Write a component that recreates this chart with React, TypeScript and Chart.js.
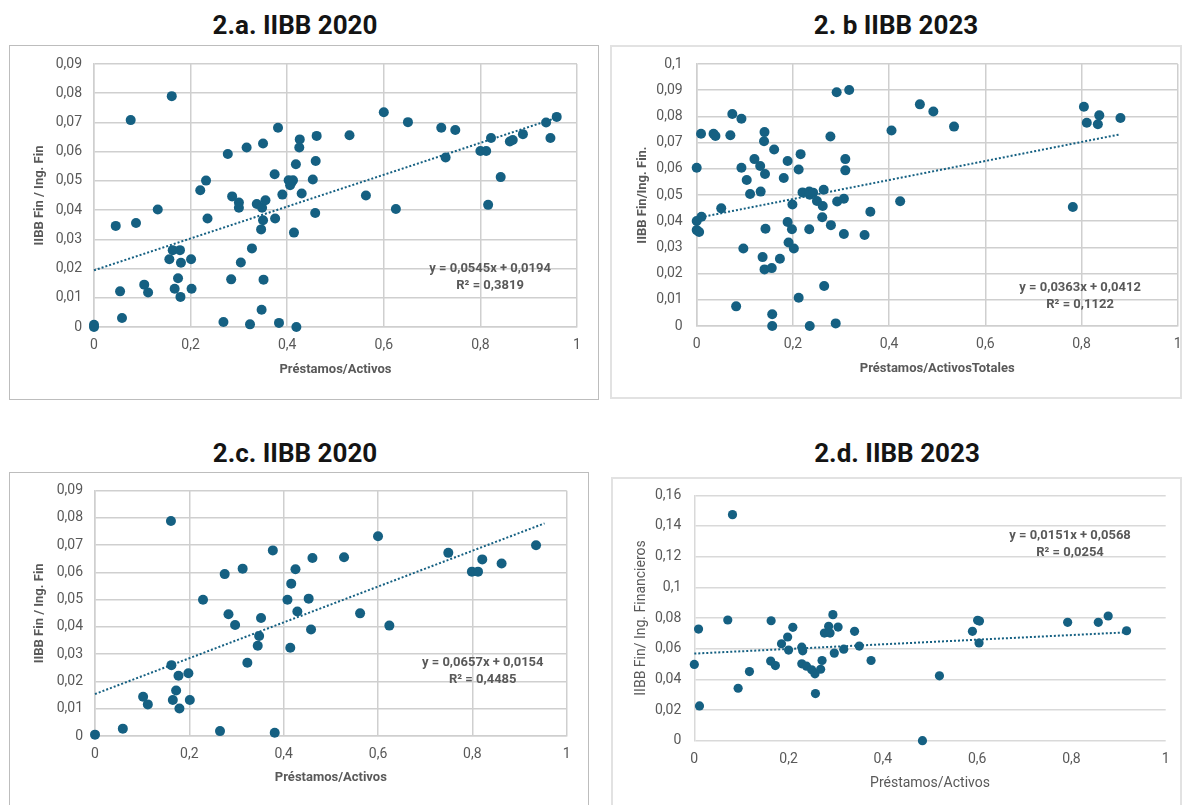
import React, { useEffect, useRef } from "react";
import { Chart, registerables } from "chart.js";

Chart.register(...registerables);

// ---------------- data ----------------
const xTicks = [0, 0.2, 0.4, 0.6, 0.8, 1];
const yTicks09 = [0, 0.01, 0.02, 0.03, 0.04, 0.05, 0.06, 0.07, 0.08, 0.09];
const yTicks10 = [0, 0.01, 0.02, 0.03, 0.04, 0.05, 0.06, 0.07, 0.08, 0.09, 0.1];
const yTicks16 = [0, 0.02, 0.04, 0.06, 0.08, 0.1, 0.12, 0.14, 0.16];

// 2.a. IIBB 2020
const aX = [0, 0, 0.045, 0.054, 0.058, 0.076, 0.087, 0.104, 0.112, 0.132, 0.161, 0.156, 0.163, 0.178, 0.18, 0.174, 0.167, 0.179, 0.201, 0.202, 0.22, 0.232, 0.235, 0.268, 0.277, 0.286, 0.284, 0.3, 0.3, 0.304, 0.316, 0.323, 0.327, 0.337, 0.348, 0.35, 0.355, 0.35, 0.346, 0.351, 0.347, 0.374, 0.375, 0.381, 0.383, 0.39, 0.403, 0.409, 0.406, 0.412, 0.414, 0.419, 0.418, 0.426, 0.425, 0.43, 0.461, 0.459, 0.453, 0.458, 0.529, 0.563, 0.6, 0.625, 0.65, 0.719, 0.728, 0.748, 0.8, 0.812, 0.816, 0.822, 0.842, 0.861, 0.867, 0.888, 0.936, 0.945, 0.958];
const aY = [0, 0.0008, 0.0346, 0.0122, 0.0031, 0.0708, 0.0356, 0.0145, 0.0118, 0.0402, 0.079, 0.0232, 0.0263, 0.0263, 0.022, 0.0167, 0.0131, 0.0103, 0.0232, 0.0131, 0.0468, 0.0501, 0.0371, 0.0017, 0.0592, 0.0447, 0.0163, 0.0426, 0.0408, 0.0221, 0.0614, 0.0009, 0.0269, 0.0421, 0.0408, 0.0628, 0.0434, 0.0365, 0.0334, 0.0162, 0.0059, 0.0523, 0.0371, 0.0682, 0.0014, 0.0453, 0.0502, 0.0495, 0.0485, 0.0502, 0.0323, 0, 0.0557, 0.0642, 0.0614, 0.0457, 0.0654, 0.0568, 0.0505, 0.039, 0.0656, 0.045, 0.0735, 0.0404, 0.0701, 0.0682, 0.058, 0.0674, 0.0602, 0.0602, 0.0418, 0.0647, 0.0513, 0.0635, 0.064, 0.066, 0.07, 0.0647, 0.0719];

// 2. b IIBB 2023
const bX = [0, 0, 0, 0.005, 0.01, 0.009, 0.035, 0.039, 0.051, 0.07, 0.074, 0.093, 0.082, 0.093, 0.097, 0.104, 0.111, 0.12, 0.132, 0.133, 0.14, 0.141, 0.142, 0.143, 0.137, 0.141, 0.156, 0.157, 0.157, 0.161, 0.173, 0.181, 0.189, 0.189, 0.191, 0.198, 0.199, 0.202, 0.212, 0.216, 0.22, 0.212, 0.234, 0.235, 0.234, 0.235, 0.242, 0.25, 0.262, 0.264, 0.261, 0.265, 0.279, 0.278, 0.291, 0.317, 0.289, 0.292, 0.306, 0.309, 0.309, 0.306, 0.349, 0.361, 0.405, 0.423, 0.464, 0.492, 0.535, 0.782, 0.805, 0.811, 0.837, 0.834, 0.881];
const bY = [0.0604, 0.0401, 0.0366, 0.0359, 0.0417, 0.0734, 0.0734, 0.0725, 0.0449, 0.0728, 0.0809, 0.0791, 0.0075, 0.0604, 0.0296, 0.0557, 0.0504, 0.0637, 0.0611, 0.0513, 0.0705, 0.074, 0.058, 0.0371, 0.0263, 0.0216, 0.0221, 0.0045, 0, 0.0674, 0.0257, 0.0565, 0.063, 0.0397, 0.0319, 0.0369, 0.0464, 0.0296, 0.0597, 0.0656, 0.051, 0.0108, 0.0513, 0.0501, 0.0369, 0, 0.0509, 0.0477, 0.0458, 0.052, 0.0415, 0.0153, 0.0385, 0.0723, 0.0892, 0.0901, 0.001, 0.0475, 0.0486, 0.0637, 0.0594, 0.0351, 0.0347, 0.0436, 0.0746, 0.0476, 0.0846, 0.0819, 0.0761, 0.0454, 0.0837, 0.0776, 0.0804, 0.077, 0.0794];

// 2.c. IIBB 2020
const cX = [0, 0.059, 0.102, 0.112, 0.161, 0.162, 0.177, 0.172, 0.165, 0.179, 0.198, 0.201, 0.229, 0.265, 0.275, 0.283, 0.297, 0.313, 0.323, 0.345, 0.348, 0.352, 0.377, 0.381, 0.408, 0.414, 0.416, 0.425, 0.429, 0.461, 0.453, 0.458, 0.528, 0.562, 0.6, 0.624, 0.749, 0.799, 0.812, 0.821, 0.862, 0.935];
const cY = [0.0005, 0.0027, 0.0144, 0.0116, 0.0789, 0.026, 0.0221, 0.0167, 0.0132, 0.0101, 0.023, 0.0132, 0.05, 0.0018, 0.0594, 0.0447, 0.0407, 0.0614, 0.0269, 0.0331, 0.0367, 0.0433, 0.0681, 0.0012, 0.05, 0.0324, 0.0559, 0.0612, 0.0457, 0.0653, 0.0504, 0.0391, 0.0656, 0.045, 0.0733, 0.0405, 0.0672, 0.0603, 0.0603, 0.0648, 0.0633, 0.07];

// 2.d. IIBB 2023
const dX = [0, 0.009, 0.011, 0.071, 0.081, 0.093, 0.117, 0.163, 0.162, 0.172, 0.185, 0.198, 0.2, 0.209, 0.228, 0.228, 0.23, 0.238, 0.249, 0.256, 0.257, 0.268, 0.271, 0.276, 0.285, 0.288, 0.294, 0.297, 0.305, 0.317, 0.34, 0.35, 0.375, 0.484, 0.52, 0.59, 0.601, 0.605, 0.604, 0.792, 0.857, 0.878, 0.917];
const dY = [0.0497, 0.0728, 0.0227, 0.0787, 0.1474, 0.0342, 0.0451, 0.0782, 0.0519, 0.049, 0.0632, 0.0676, 0.0591, 0.0739, 0.0501, 0.061, 0.0586, 0.0486, 0.0462, 0.0436, 0.0307, 0.0466, 0.0523, 0.0702, 0.0746, 0.0702, 0.0822, 0.0571, 0.0741, 0.0597, 0.0713, 0.0617, 0.0523, 0, 0.0423, 0.0713, 0.0785, 0.078, 0.0637, 0.0772, 0.0772, 0.0813, 0.0717];

// trend lines (slope, intercept, R², end of drawn line)
const aTrend = [0.0545, 0.0194, 0.3819, 0.958];
const bTrend = [0.0363, 0.0412, 0.1122, 0.881];
const cTrend = [0.0657, 0.0154, 0.4485, 0.953];
const dTrend = [0.0151, 0.0568, 0.0254, 0.917];

// ---------------- styling ----------------
const BLUE = "#156082";
const FONT = "Roboto, 'Noto Sans', sans-serif";
const TEXT_GRAY = "#595959";

const fmt = (v: number) => String(+Number(v).toFixed(2)).replace(".", ",");
const fmt4 = (v: number) => v.toFixed(4).replace(".", ",");

const eqPlugin = {
  id: "eqLabel",
  afterDatasetsDraw(chart: any, _args: any, opts: any) {
    const { ctx, scales } = chart;
    const cx = scales.x.getPixelForValue(opts.x);
    const cy = scales.y.getPixelForValue(opts.y);
    ctx.save();
    ctx.font = `bold 13px ${FONT}`;
    ctx.fillStyle = TEXT_GRAY;
    ctx.textAlign = "center";
    ctx.textBaseline = "middle";
    ctx.fillText(opts.line1, cx, cy);
    ctx.fillText(opts.line2, cx, cy + 17);
    ctx.restore();
  },
};

type Spec = {
  left: number; top: number; w: number; h: number;
  padTop: number; padRight: number; yAxisW: number; xAxisH: number;
  yTitlePad: number; xTitlePad: number; yTickPad: number;
  yMax: number; yTicks: number[];
  xs: number[]; ys: number[]; trend: number[];
  xTitle: string; yTitle: string; bold: boolean; titleSize: number;
  vGrid: boolean; gridColor: string; radius: number;
  eqX: number; eqY: number;
};

function buildConfig(s: Spec): any {
  const [m, b, r2, end] = s.trend;
  const titleFont = { family: FONT, size: s.titleSize, weight: s.bold ? "bold" : "normal" };
  const tickFont = { family: FONT, size: 14 };
  return {
    type: "scatter",
    data: {
      datasets: [
        {
          type: "line",
          data: [
            { x: 0, y: b },
            { x: end, y: m * end + b },
          ],
          borderColor: BLUE,
          borderWidth: 2,
          borderDash: [2, 2],
          pointRadius: 0,
          fill: false,
          tension: 0,
          clip: false,
        },
        {
          type: "scatter",
          data: s.xs.map((x, i) => ({ x, y: s.ys[i] })),
          backgroundColor: BLUE,
          borderColor: BLUE,
          borderWidth: 0,
          pointRadius: s.radius,
          clip: false,
        },
      ],
    },
    options: {
      animation: false,
      responsive: false,
      maintainAspectRatio: false,
      layout: { autoPadding: false, padding: { top: s.padTop, right: s.padRight, left: 0, bottom: 0 } },
      plugins: {
        legend: { display: false },
        tooltip: { enabled: false },
        title: { display: false },
        eqLabel: {
          x: s.eqX,
          y: s.eqY,
          line1: `y = ${fmt4(m)}x + ${fmt4(b)}`,
          line2: `R² = ${fmt4(r2)}`,
        },
      },
      scales: {
        x: {
          type: "linear",
          min: 0,
          max: 1,
          afterBuildTicks: (sc: any) => {
            sc.ticks = xTicks.map((v) => ({ value: v }));
          },
          afterFit: (sc: any) => {
            sc.height = s.xAxisH;
            sc.paddingLeft = 0;
            sc.paddingRight = 0;
          },
          grid: { display: s.vGrid, color: s.gridColor, lineWidth: 1.5, drawTicks: false },
          border: { display: s.vGrid, color: s.gridColor, width: 1.5 },
          ticks: { color: TEXT_GRAY, font: tickFont, padding: 10.5, autoSkip: false, maxRotation: 0, callback: (v: number) => fmt(v) },
          title: { display: true, text: s.xTitle, color: TEXT_GRAY, font: titleFont, padding: { top: 0, bottom: s.xTitlePad } },
        },
        y: {
          type: "linear",
          min: 0,
          max: s.yMax,
          afterBuildTicks: (sc: any) => {
            sc.ticks = s.yTicks.map((v) => ({ value: v }));
          },
          afterFit: (sc: any) => {
            sc.width = s.yAxisW;
            sc.paddingTop = 0;
            sc.paddingBottom = 0;
          },
          grid: { color: s.gridColor, lineWidth: 1.5, drawTicks: false },
          border: { display: true, color: s.gridColor, width: 1.5 },
          ticks: { color: TEXT_GRAY, font: tickFont, padding: s.yTickPad, autoSkip: false, callback: (v: number) => fmt(v) },
          title: { display: true, text: s.yTitle, color: TEXT_GRAY, font: titleFont, padding: { top: s.yTitlePad, bottom: 0 } },
        },
      },
    },
    plugins: [eqPlugin],
  };
}

function Panel({ spec }: { spec: Spec }) {
  const ref = useRef<HTMLCanvasElement>(null);
  useEffect(() => {
    const chart = new Chart(ref.current as HTMLCanvasElement, buildConfig(spec));
    return () => chart.destroy();
  }, [spec]);
  return (
    <canvas
      ref={ref}
      width={spec.w}
      height={spec.h}
      style={{ position: "absolute", left: spec.left, top: spec.top, width: spec.w, height: spec.h }}
    />
  );
}

const GRID_A = "#cfcfcf";
const GRID_D = "#d9d9d9";

const specA: Spec = {
  left: 10, top: 46, w: 587, h: 353, padTop: 18, padRight: 20, yAxisW: 84, xAxisH: 72,
  yTitlePad: 22, xTitlePad: 21, yTickPad: 12, yMax: 0.09, yTicks: yTicks09,
  xs: aX, ys: aY, trend: aTrend, xTitle: "Préstamos/Activos", yTitle: "IIBB Fin / Ing. Fin",
  bold: true, titleSize: 13, vGrid: true, gridColor: GRID_A, radius: 5, eqX: 0.82, eqY: 0.02,
};
const specB: Spec = {
  left: 611, top: 46, w: 572, h: 352, padTop: 18, padRight: 5.3, yAxisW: 85.7, xAxisH: 72,
  yTitlePad: 24, xTitlePad: 21, yTickPad: 14, yMax: 0.1, yTicks: yTicks10,
  xs: bX, ys: bY, trend: bTrend, xTitle: "Préstamos/ActivosTotales", yTitle: "IIBB Fin/Ing. Fin.",
  bold: true, titleSize: 13, vGrid: true, gridColor: GRID_A, radius: 5, eqX: 0.797, eqY: 0.0145,
};
const specC: Spec = {
  left: 10, top: 473, w: 578, h: 332, padTop: 17.7, padRight: 21.3, yAxisW: 85, xAxisH: 69,
  yTitlePad: 22, xTitlePad: 19, yTickPad: 12, yMax: 0.09, yTicks: yTicks09,
  xs: cX, ys: cY, trend: cTrend, xTitle: "Préstamos/Activos", yTitle: "IIBB Fin / Ing. Fin",
  bold: true, titleSize: 13, vGrid: true, gridColor: GRID_A, radius: 5, eqX: 0.822, eqY: 0.0268,
};
const specD: Spec = {
  left: 612, top: 478, w: 568, h: 327, padTop: 17.3, padRight: 14.3, yAxisW: 82.3, xAxisH: 64.3,
  yTitlePad: 21, xTitlePad: 13.6, yTickPad: 13, yMax: 0.16, yTicks: yTicks16,
  xs: dX, ys: dY, trend: dTrend, xTitle: "Préstamos/Activos", yTitle: "IIBB Fin/ Ing. Financieros",
  bold: false, titleSize: 14, vGrid: false, gridColor: GRID_D, radius: 4.6, eqX: 0.797, eqY: 0.1337,
};

const titleStyle = (left: number, top: number): React.CSSProperties => ({
  position: "absolute",
  left,
  top,
  width: 590,
  textAlign: "center",
  fontFamily: FONT,
  fontWeight: 700,
  fontSize: 26,
  lineHeight: "30px",
  color: "#141414",
  whiteSpace: "nowrap",
});

const boxStyle = (left: number, top: number, w: number, h: number, color: string, bw: number): React.CSSProperties => ({
  position: "absolute",
  left,
  top,
  width: w,
  height: h,
  border: `${bw}px solid ${color}`,
  boxSizing: "border-box",
});

export default function App() {
  useEffect(() => {
    document.body.style.margin = "0";
    document.body.style.background = "#ffffff";
  }, []);
  return (
    <div style={{ position: "relative", width: 1183, height: 805, overflow: "hidden", background: "#fff" }}>
      <div style={titleStyle(0, 10)}>2.a. IIBB 2020</div>
      <div style={titleStyle(601, 10)}>2. b IIBB 2023</div>
      <div style={titleStyle(0, 438)}>2.c. IIBB 2020</div>
      <div style={titleStyle(602, 438)}>2.d. IIBB 2023</div>

      <div style={boxStyle(9, 45, 590, 355, "#bdbdbd", 1.5)} />
      <div style={boxStyle(610, 45, 572, 354, "#e2e2e2", 2)} />
      <div style={boxStyle(9, 472, 580, 360, "#bdbdbd", 1.5)} />
      <div style={boxStyle(611, 477, 571, 360, "#e2e2e2", 2)} />

      <Panel spec={specA} />
      <Panel spec={specB} />
      <Panel spec={specC} />
      <Panel spec={specD} />
    </div>
  );
}
